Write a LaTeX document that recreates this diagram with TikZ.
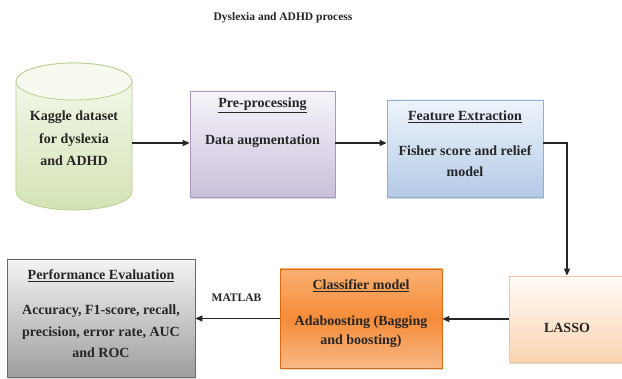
\documentclass[tikz,border=0pt]{standalone}
\usepackage{fontspec}
\setmainfont{Liberation Serif}
\usetikzlibrary{arrows.meta,shadows}
\definecolor{cylTop}{HTML}{F6FAEF}
\definecolor{cylBot}{HTML}{D4E3B5}
\definecolor{cylEdge}{HTML}{B9CF8E}
\definecolor{preTop}{HTML}{F7F5FA}
\definecolor{preBot}{HTML}{CBBFDB}
\definecolor{preEdge}{HTML}{A898C0}
\definecolor{featTop}{HTML}{EEF4FB}
\definecolor{featBot}{HTML}{B4CAE6}
\definecolor{featEdge}{HTML}{8EAED6}
\definecolor{lasTop}{HTML}{FFFBF7}
\definecolor{lasBot}{HTML}{FBD3B1}
\definecolor{lasEdge}{HTML}{F8C49A}
\definecolor{clsTop}{HTML}{F9B072}
\definecolor{clsMid}{HTML}{F58C38}
\definecolor{clsBot}{HTML}{F9B885}
\definecolor{clsEdge}{HTML}{D9680F}
\definecolor{perfTop}{HTML}{F4F4F4}
\definecolor{perfBot}{HTML}{9E9E9E}
\definecolor{perfEdge}{HTML}{6A6A6A}
\tikzset{
  procbox/.style={rectangle, inner sep=0pt, line width=0.8pt,
    drop shadow={shadow xshift=1pt, shadow yshift=-2pt, opacity=0.3}},
  txt/.style={anchor=base, inner sep=0pt, font=\bfseries\fontsize{14}{16}\selectfont, text=black!85},
  flow/.style={line width=1.4pt, draw=black!85, -{Triangle[width=6pt,length=7pt]}}
}
\begin{document}
\begin{tikzpicture}[x=1pt,y=-1pt]
\useasboundingbox (0,0) rectangle (622,379);
\clip (0,0) rectangle (622,379);
\fill[white] (0,0) rectangle (622,379);

% title
\node[txt, font=\bfseries\fontsize{11.5}{13}\selectfont] (title) at (283,21) {Dyslexia and ADHD process};

% cylinder (database)
\node[minimum width=116pt, minimum height=147pt, inner sep=0pt] (db) at (74,136.5) {};
\shade[top color=cylTop, bottom color=cylBot, draw=cylEdge, line width=0.8pt]
  (16,81.5) -- (16,191.5) arc[start angle=180, end angle=360, x radius=58, y radius=-18.5]
  -- (132,81.5) arc[start angle=0, end angle=180, x radius=58, y radius=-18.5] -- cycle;
\filldraw[fill=cylTop, draw=cylEdge, line width=0.8pt] (74,81.5) ellipse[x radius=58, y radius=18.5];
\node[txt] (db1) at (74,121) {Kaggle dataset};
\node[txt] (db2) at (74,143.5) {for dyslexia};
\node[txt] (db3) at (74,166) {and ADHD};

% pre-processing
\node[procbox, top color=preTop, bottom color=preBot, draw=preEdge,
  minimum width=145pt, minimum height=106pt] (pre) at (262.5,144) {};
\node[txt] (pre1) at (262.5,108) {\underline{Pre-processing}};
\node[txt] (pre2) at (262.5,145) {Data augmentation};

% feature extraction
\node[procbox, top color=featTop, bottom color=featBot, draw=featEdge,
  minimum width=156pt, minimum height=97pt] (feat) at (465,148.5) {};
\node[txt] (feat1) at (465,121) {\underline{Feature Extraction}};
\node[txt] (feat2) at (465,156) {Fisher score and relief};
\node[txt] (feat3) at (465,177) {model};

% LASSO
\node[procbox, top color=lasTop, bottom color=lasBot, draw=lasEdge,
  minimum width=116pt, minimum height=86pt] (lasso) at (567,319) {};
\node[txt] (las1) at (567,333) {LASSO};

% classifier
\node[procbox, top color=clsTop, bottom color=clsBot, middle color=clsMid, draw=clsEdge,
  minimum width=162pt, minimum height=99pt] (cls) at (361,318.5) {};
\node[txt] (cls1) at (361,290) {\underline{Classifier model}};
\node[txt] (cls2) at (361,326) {Adaboosting (Bagging};
\node[txt] (cls3) at (361,345) {and boosting)};

% performance evaluation
\node[procbox, top color=perfTop, bottom color=perfBot, draw=perfEdge,
  minimum width=188pt, minimum height=118pt] (perf) at (101,318) {};
\node[txt] (perf1) at (101,280) {\underline{Performance Evaluation}};
\node[txt] (perf2) at (101,315) {Accuracy, F1-score, recall,};
\node[txt] (perf3) at (101,337) {precision, error rate, AUC};
\node[txt] (perf4) at (101,358) {and ROC};

% connectors
\coordinate (dbout) at (db.east |- 0,143);
\draw[flow] (dbout) -- (dbout -| pre.west);
\draw[flow] (pre.east |- 0,143) -- (feat.west |- 0,143);
\draw[flow] (feat.east |- 0,143) -| (lasso.north);
\draw[flow] (lasso.west) -- (lasso.west -| cls.east);
\draw[flow] (cls.west) -- (cls.west -| perf.east);
\node[txt, font=\bfseries\fontsize{11.5}{13}\selectfont] (matlab) at (236.5,302) {MATLAB};
\end{tikzpicture}
\end{document}
